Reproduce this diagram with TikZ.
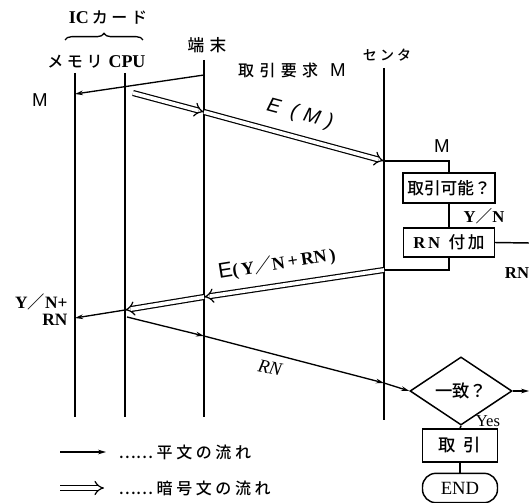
\documentclass[tikz,border=0pt]{standalone}
\usepackage{fontspec}
\setmainfont{Liberation Serif}
\newfontfamily\jp{Noto Sans CJK JP Medium}
\newfontfamily\hsans{Liberation Sans}
\usetikzlibrary{arrows.meta,shapes.geometric,decorations.pathreplacing}
\begin{document}
\begin{tikzpicture}[x=0.75pt,y=-0.75pt,
  life/.style={line width=1.4pt},
  plain/.style={line width=1pt,-{Stealth[length=6pt,width=3.5pt]}},
  enc/.style={double,double distance=2.8pt,line width=0.9pt,-{Implies}},
  conn/.style={line width=1.1pt},
  box/.style={draw,line width=1.1pt,rectangle,inner sep=0pt},
  jl/.style={inner sep=1pt,font=\jp\fontsize{12}{13}\selectfont},
  rl/.style={inner sep=1pt,font=\bfseries\fontsize{12.5}{13}\selectfont},
  ml/.style={inner sep=1pt,font=\hsans\fontsize{14}{14}\selectfont},
]
\useasboundingbox (0,0) rectangle (529,503);
% lifelines
\coordinate (memT) at (75,73);  \coordinate (memB) at (75,417);
\coordinate (cpuT) at (125,73); \coordinate (cpuB) at (125,417);
\coordinate (trmT) at (204,60); \coordinate (trmB) at (204,417);
\coordinate (cenT) at (384,68); \coordinate (cenB) at (384,420);
\draw[life] (memT) -- (memB);
\draw[life] (cpuT) -- (cpuB);
\draw[life] (trmT) -- (trmB);
\draw[life] (cenT) -- (cenB);
% headers
\node[inner sep=1pt] (ic) at (108,18) {\bfseries\fontsize{13.5}{14}\selectfont IC\,{\jp\mdseries\fontsize{12}{13}\selectfont カ ー ド}};
\draw[line width=1pt,decorate,decoration={brace,amplitude=5pt}] (65,40) -- (143,40);
\node[jl] (mem) at (75,62) {メ モ リ};
\node[rl,font=\bfseries\fontsize{13.5}{14}\selectfont] (cpu) at (127,62) {CPU};
\node[jl,font=\jp\fontsize{12.5}{13}\selectfont] (trm) at (207,45) {端\hspace{4pt}末};
\node[jl] (req) at (292,70) {取\hspace{4pt}引\hspace{4pt}要\hspace{4pt}求\hspace{9pt}{\hsans\fontsize{14}{14}\selectfont M}};
\node[jl,font=\jp\fontsize{10.5}{12}\selectfont] (cen) at (387,55) {セ ン タ};
% top plain arrow
\coordinate (a1) at (204,75); \coordinate (a2) at (75,94);
\draw[plain] (a1) -- (a2);
\node[ml] (mL) at (40,100) {M};
% E(M)
\coordinate (e1) at (133,93); \coordinate (e2) at (204,112); \coordinate (e3) at (384,161);
\draw[enc] (e1) -- (e2);
\draw[enc] (e2) -- (e3);
\node[inner sep=1pt,rotate=-15,font=\hsans\itshape\fontsize{15}{15}\selectfont] (em) at (300,114) {E\ \ (\,\,M\,\,)};
% center processing
\node[ml] (mR) at (442,146) {M};
\node[box,minimum width=69pt,minimum height=22.5pt,font=\jp\fontsize{12.5}{13}\selectfont] (b1) at (449,188) {取引可能？};
\node[box,minimum width=68pt,minimum height=22pt] (b2) at (449,242.5) {\bfseries\fontsize{12.5}{13}\selectfont R\,N\ \ {\jp\mdseries 付\,加}};
\draw[conn] (e3) -| (b1.north);
\draw[conn] (b1.south) -- (b2.north);
\node[rl] (yn) at (484,216) {Y{\jp\mdseries ／}N};
\coordinate (r1) at (384,270);
\draw[conn] (b2.south) |- (r1);
\coordinate (rnE) at (529,243);
\draw[conn] (b2.east) -- (rnE);
\node[rl] (rnR) at (517,273) {RN};
% E(Y/N+RN)
\coordinate (r2) at (204,297); \coordinate (r3) at (125,310); \coordinate (r4) at (75,318);
\draw[enc] (r1) -- (r2);
\draw[enc] (r2) -- (r3);
\node[inner sep=1pt,rotate=9,font=\bfseries\fontsize{13.5}{14}\selectfont] (eyn) at (277,264) {{\hsans\mdseries\fontsize{16}{16}\selectfont E}(\,Y{\jp\mdseries ／}N\,+\,RN\,)};
\draw[plain] (r3) -- (r4);
\node[rl,anchor=east,font=\bfseries\fontsize{13}{13}\selectfont] (yn2) at (69,302) {Y{\jp\mdseries ／}N+};
\node[rl,anchor=east,font=\bfseries\fontsize{13}{13}\selectfont] (rn2) at (69,320) {RN};
% RN to match
\node[draw,line width=1.1pt,diamond,inner sep=0pt,minimum width=76.5pt,minimum height=27.75pt,font=\jp\fontsize{13}{13}\selectfont] (d) at (461,391) {一致？};
\coordinate (s1) at (127,317); \coordinate (s2) at (204,336); \coordinate (s3) at (384,383);
\draw[plain] (s1) -- (s2);
\draw[plain] (s2) -- (s3);
\draw[plain] (s3) -- (d.west);
\node[inner sep=1pt,rotate=-12,font=\itshape\fontsize{14}{14}\selectfont] (rnl) at (270,368) {RN};
\coordinate (dE) at (529,391);
\draw[plain] (d.east) -- (dE);
\node[box,minimum width=56.25pt,minimum height=24.75pt,font=\jp\fontsize{13}{13}\selectfont] (tr) at (460,445.5) {取\ \ 引};
\node[draw,line width=1.1pt,rounded corners=10pt,inner sep=0pt,minimum width=56.25pt,minimum height=22pt,font=\fontsize{14}{14}\selectfont] (end) at (460,488) {END};
\draw[conn] (d.south) -- (tr.north);
\node[inner sep=1pt,font=\fontsize{12.5}{13}\selectfont] (yes) at (488,421) {Yes};
\draw[conn] (tr.south) -- (end.north);
% legend
\coordinate (l1a) at (60,452); \coordinate (l1b) at (106,452);
\draw[plain] (l1a) -- (l1b);
\node[jl,anchor=west] (l1t) at (117,452) {……\ 平 文 の 流 れ};
\coordinate (l2a) at (60,488); \coordinate (l2b) at (104,488);
\draw[enc] (l2a) -- (l2b);
\node[jl,anchor=west] (l2t) at (117,488) {……\ 暗 号 文 の 流 れ};
\end{tikzpicture}
\end{document}
